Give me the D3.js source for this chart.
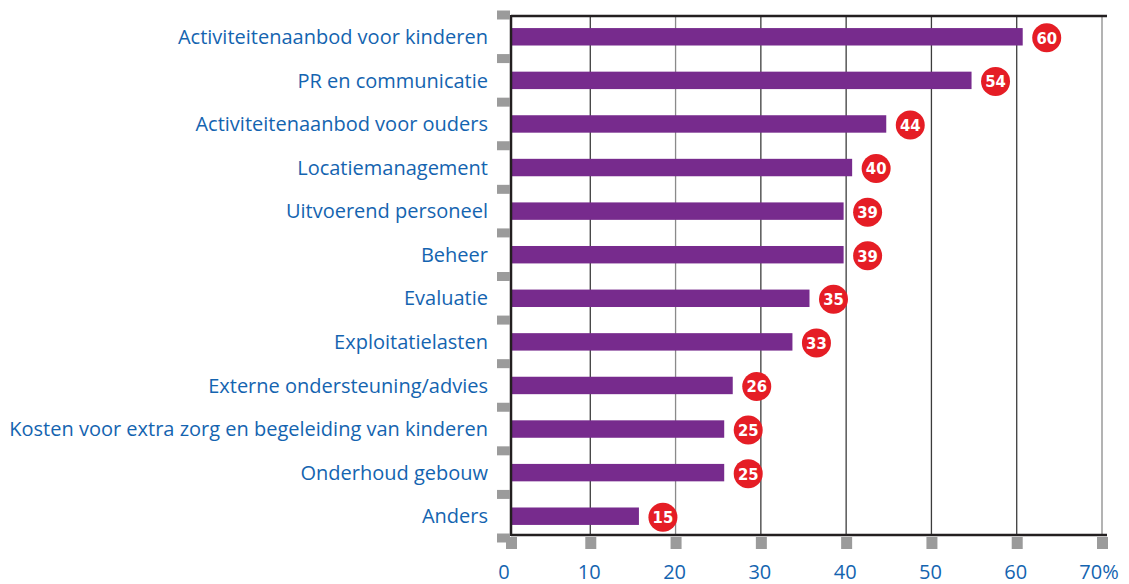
<!DOCTYPE html>
<html>
<head>
<meta charset="utf-8">
<script src="https://cdn.jsdelivr.net/npm/d3@7"></script>
<style>
  body { margin: 0; background: #fff; }
  svg text { font-family: "Open Sans", "Noto Sans", sans-serif; }
</style>
</head>
<body>
<svg id="chart"></svg>
<script>
// data
const categories = [
  "Activiteitenaanbod voor kinderen",
  "PR en communicatie",
  "Activiteitenaanbod voor ouders",
  "Locatiemanagement",
  "Uitvoerend personeel",
  "Beheer",
  "Evaluatie",
  "Exploitatielasten",
  "Externe ondersteuning/advies",
  "Kosten voor extra zorg en begeleiding van kinderen",
  "Onderhoud gebouw",
  "Anders"
];
const values = [60, 54, 44, 40, 39, 39, 35, 33, 26, 25, 25, 15];
const ticks = [0, 10, 20, 30, 40, 50, 60, 70];
const tickLabels = ["0", "10", "20", "30", "40", "50", "60", "70%"];

const W = 1129, H = 584;
const frameLeft = 511, frameTop = 16, frameBottom = 535, frameRight = 1107;

const svg = d3.select("#chart").attr("width", W).attr("height", H);

// scales
const x = d3.scaleLinear().domain([0, 70]).range([505, 1102]);
const xBar = x.copy().range([frameLeft, 1108]);
const y = d3.scaleBand().domain(categories).range([15, 538]).paddingInner(0.6).paddingOuter(0.3);
const step = y.step();

// gridlines
svg.append("g").selectAll("line")
  .data(ticks.filter(d => d > 0))
  .join("line")
    .attr("x1", d => x(d)).attr("x2", d => x(d))
    .attr("y1", frameTop).attr("y2", frameBottom)
    .attr("stroke", d => (d === 20 || d === 70) ? "#8a8a8a" : "#3c3c3c")
    .attr("stroke-width", 1.3);

// bars
svg.append("g").selectAll("rect")
  .data(values)
  .join("rect")
    .attr("x", frameLeft)
    .attr("y", (d, i) => y(categories[i]))
    .attr("width", d => xBar(d) - frameLeft)
    .attr("height", y.bandwidth())
    .attr("fill", "#772b8d");

// frame
const frame = svg.append("g").attr("stroke", "#231f20").attr("stroke-width", 2.5);
frame.append("line").attr("x1", frameLeft).attr("x2", frameLeft).attr("y1", frameTop - 1).attr("y2", frameBottom + 1);
frame.append("line").attr("x1", frameLeft).attr("x2", frameRight).attr("y1", frameTop).attr("y2", frameTop);
frame.append("line").attr("x1", frameLeft).attr("x2", frameRight).attr("y1", frameBottom).attr("y2", frameBottom);

// left gray tick squares at band boundaries
const bounds = d3.range(categories.length + 1).map(i => y.range()[0] + i * step);
svg.append("g").selectAll("rect")
  .data(bounds)
  .join("rect")
    .attr("x", 497)
    .attr("y", d => d - 4.5)
    .attr("width", 13)
    .attr("height", 9)
    .attr("fill", "#9b9b9b");

// bottom gray tick squares
svg.append("g").selectAll("rect")
  .data(ticks)
  .join("rect")
    .attr("x", d => x(d) - 5 + (d === 0 ? 6 : 0))
    .attr("y", 537)
    .attr("width", 11)
    .attr("height", 12)
    .attr("fill", "#9b9b9b");

// x tick labels
svg.append("g").selectAll("text")
  .data(ticks)
  .join("text")
    .attr("x", (d, i) => x(d) - (d === 70 ? 3 : 1))
    .attr("y", 579)
    .attr("text-anchor", "middle")
    .attr("fill", "#1464b0")
    .attr("font-size", 20)
    .text((d, i) => tickLabels[i]);

// category labels
svg.append("g").selectAll("text")
  .data(categories)
  .join("text")
    .attr("x", 488)
    .attr("y", d => y(d) + y.bandwidth() / 2)
    .attr("dy", "0.36em")
    .attr("text-anchor", "end")
    .attr("fill", "#1464b0")
    .attr("font-size", 20)
    .text(d => d);

// value badges
const badges = svg.append("g").selectAll("g")
  .data(values)
  .join("g")
    .attr("transform", (d, i) => `translate(${xBar(d) + 24},${y(categories[i]) + y.bandwidth() / 2 + 1})`);

badges.append("circle")
  .attr("r", 14.5)
  .attr("fill", "#e51d25");

badges.append("text")
  .attr("text-anchor", "middle")
  .attr("dy", "0.36em")
  .attr("fill", "#fff")
  .attr("font-size", 16.5)
  .attr("font-weight", "bold")
  .style("font-family", "'DejaVu Sans Condensed', 'Liberation Sans Narrow', sans-serif")
  .text(d => d);
</script>
</body>
</html>
